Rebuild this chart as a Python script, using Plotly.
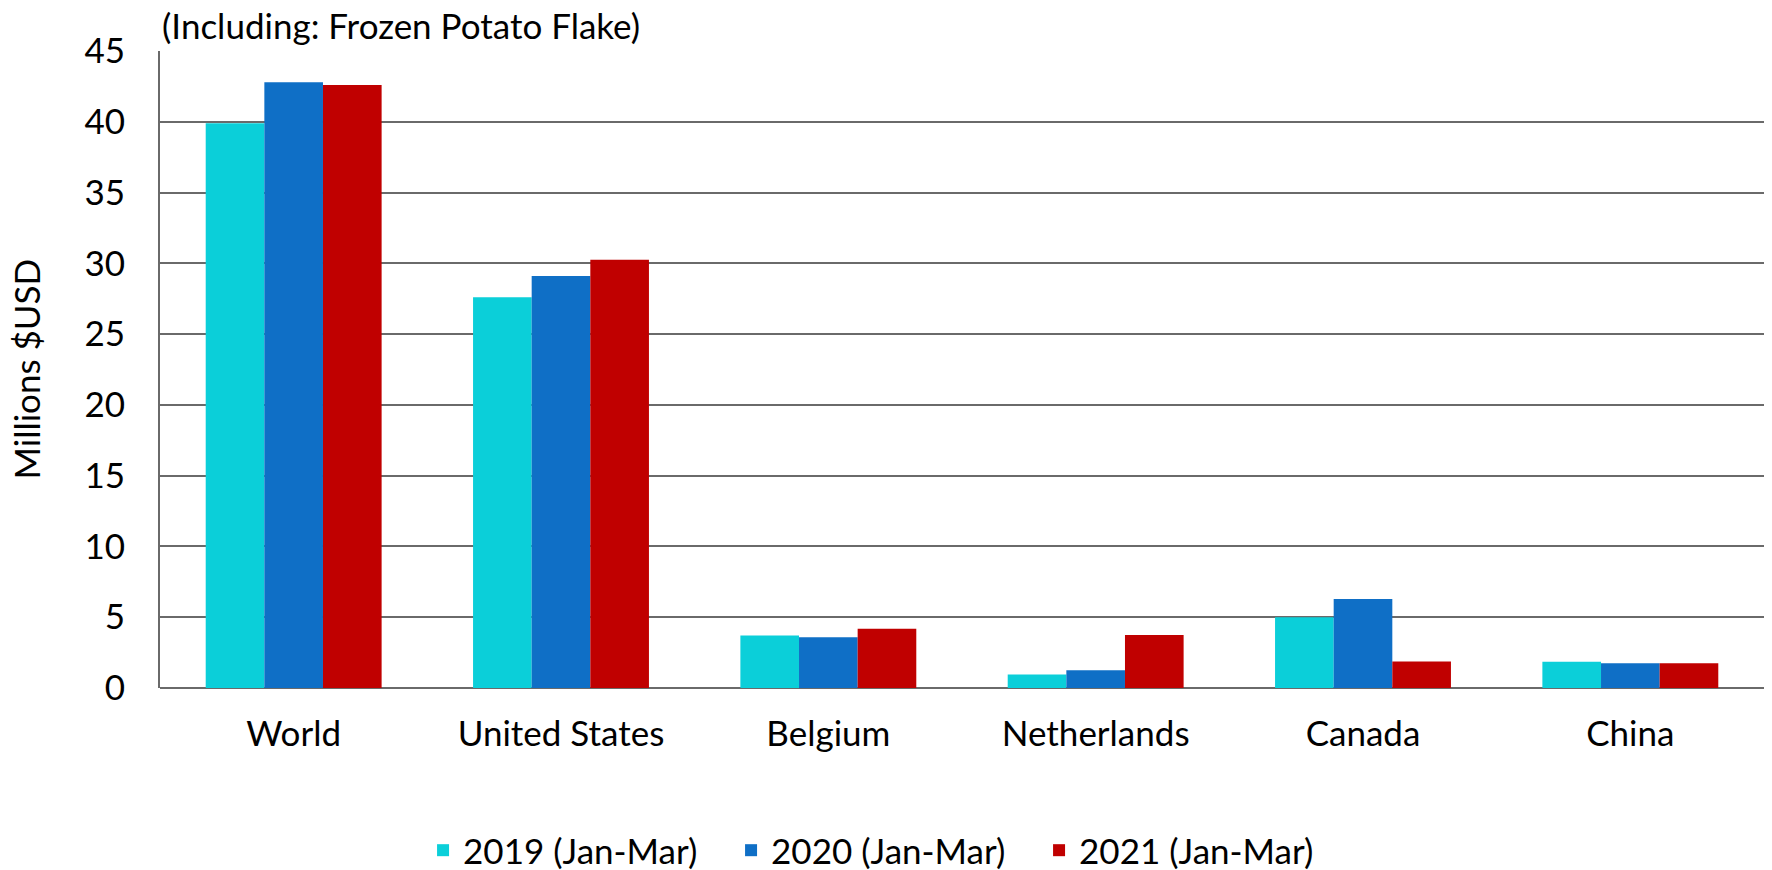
import plotly.graph_objects as go

categories = ["World", "United States", "Belgium", "Netherlands", "Canada", "China"]
series_names = ["2019 (Jan-Mar)", "2020 (Jan-Mar)", "2021 (Jan-Mar)"]
values_2019 = [39.9, 27.6, 3.7, 0.95, 5.0, 1.86]
values_2020 = [42.8, 29.1, 3.58, 1.25, 6.29, 1.74]
values_2021 = [42.6, 30.25, 4.19, 3.74, 1.88, 1.74]
colors = ["#0BCFD9", "#0F6FC6", "#C00000"]
y_ticks = [0, 5, 10, 15, 20, 25, 30, 35, 40, 45]

FONT = "Lato"
FS = 35
fig = go.Figure()
for name, vals, col in zip(series_names, [values_2019, values_2020, values_2021], colors):
    fig.add_trace(go.Bar(x=categories, y=vals, name=name, marker=dict(color=col, line=dict(width=0))))

fig.update_layout(
    width=1772, height=870,
    barmode="group", bargap=0.342, bargroupgap=0,
    plot_bgcolor="white", paper_bgcolor="white",
    margin=dict(l=160, r=8, t=51, b=182, autoexpand=False),
    font=dict(family=FONT, size=FS, color="#000000"),
    legend=dict(orientation="h", x=0.164, xanchor="left", y=-0.255, yanchor="middle",
                font=dict(size=FS), itemwidth=30, traceorder="normal",
                entrywidth=263, entrywidthmode="pixels"),
    xaxis=dict(showgrid=False, showline=False, ticks="", tickfont=dict(size=FS),
               ticklabelstandoff=22, automargin=False),
    yaxis=dict(range=[0, 45], tickvals=y_ticks, showgrid=True, gridcolor="#6a6a6a", gridwidth=2,
               showline=True, linecolor="#6a6a6a", linewidth=2, zeroline=True, zerolinecolor="#6a6a6a",
               zerolinewidth=2, ticks="", ticklabelstandoff=26, automargin=False,
               tickfont=dict(size=FS)),
    annotations=[
        dict(text="(Including: Frozen Potato Flake)", xref="paper", yref="paper",
             x=0.0, y=1.0, xanchor="left", yanchor="bottom", showarrow=False,
             font=dict(size=FS), xshift=0, yshift=3),
        dict(text="Millions $USD", xref="paper", yref="paper", x=0.0, y=0.5,
             xanchor="center", yanchor="middle", textangle=-90, showarrow=False,
             font=dict(size=FS), xshift=-135),
    ],
)
fig.write_html("out.html", config={"displayModeBar": False},
               post_script="document.body.style.margin='0';document.body.style.padding='0';document.body.style.overflow='hidden';")
